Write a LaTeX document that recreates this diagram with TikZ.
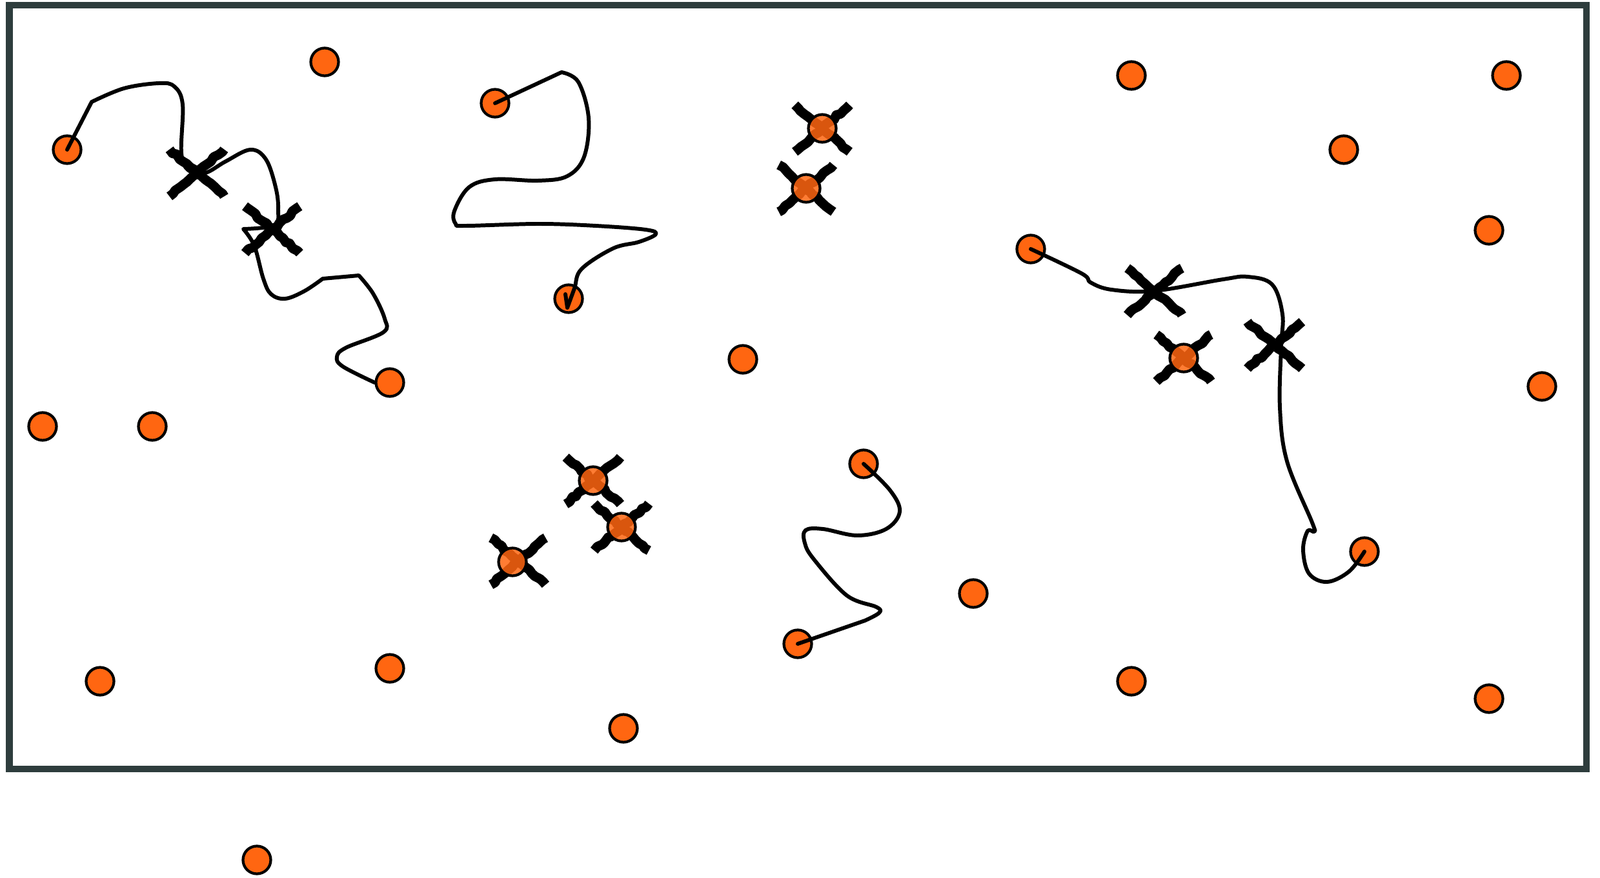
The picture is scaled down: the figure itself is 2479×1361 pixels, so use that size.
\documentclass[tikz,border=0pt]{standalone}
\usepackage{tikz}
\usetikzlibrary{shapes.misc,decorations.pathmorphing}
\definecolor{dotorange}{RGB}{255,102,17}
\definecolor{framegrey}{RGB}{46,61,61}

\begin{document}
\begin{tikzpicture}[x=0.01cm,y=-0.01cm,
  dot/.style={circle,draw=black,fill=dotorange,line width=1.2pt,minimum size=0.43cm,inner sep=0pt},
  crossed/.style={fill opacity=0.85},
  track/.style={line width=1.7pt,line cap=round,line join=round},
  hit/.style={cross out,draw=black,line width=4.2pt,line join=round,minimum width=0.7cm,minimum height=0.58cm,inner sep=0pt,
    decorate,decoration={random steps,segment length=2pt,amplitude=0.5pt}}]
\useasboundingbox (0,0) rectangle (2479,1361);
\draw[framegrey,line width=2.9pt] (14.5,8) rectangle (2458,1192);
% free particles
\node[dot] (c1) at (503,96) {};
\node[dot] (c2) at (104,232) {};
\node[dot] (c3) at (767,160) {};
\node[dot] (c4) at (881,463) {};
\node[dot] (c5) at (604,593) {};
\node[dot] (c6) at (66,661) {};
\node[dot] (c7) at (236,661) {};
\node[dot] (c8) at (1151,557) {};
\node[dot] (c9) at (1338,719) {};
\node[dot] (c10) at (1508,920) {};
\node[dot] (c11) at (1236,998) {};
\node[dot] (c12) at (966,1129) {};
\node[dot] (c13) at (604,1036) {};
\node[dot] (c14) at (155,1056) {};
\node[dot] (c15) at (398,1333) {};
\node[dot] (c16) at (1753,117) {};
\node[dot] (c17) at (2334,117) {};
\node[dot] (c18) at (2082,232) {};
\node[dot] (c19) at (2307,357) {};
\node[dot] (c20) at (1597,386) {};
\node[dot] (c21) at (2389,599) {};
\node[dot] (c22) at (2114,855) {};
\node[dot] (c23) at (1753,1056) {};
\node[dot] (c24) at (2307,1083) {};
% random walks
\draw[track] (c2.center) -- (142,158)
  --plot[smooth,tension=0.6] coordinates {(142,158) (192,137) (246,129) (270,134) (283,162) (281,237) (292,264) (318,268) (350,250) (388,232) (412,247) (427,290) (431,324) (425,349) (377,355)}
  --plot[smooth,tension=0.6] coordinates {(377,355) (394,381) (408,432) (420,456) (442,463) (472,451) (500,432)}
  -- (556,427)
  --plot[smooth,tension=0.6] coordinates {(556,427) (578,455) (596,494) (594,515) (536,539) (522,553) (531,568) (c5.west)};
\draw[track] (c3.center) -- (870,112)
  --plot[smooth,tension=0.6] coordinates {(870,112) (896,127) (912,183) (905,243) (879,273) (834,280) (767,278) (727,290) (704,327) (706,347) (722,350) (834,347) (923,350) (1000,356) (1016,363) (990,375) (950,385) (901,417) (890,447) (879,477)}
  -- (876,456);
\draw[track] plot[smooth,tension=0.6] coordinates {(c9.center) (1379,760) (1394,793) (1373,820) (1328,830) (1275,820) (1248,822) (1247,842) (1261,867) (1312,923) (1358,941) (1362,950) (1340,962)}
  -- (c11.center);
\draw[track] plot[smooth,tension=0.6] coordinates {(c20.center) (1676,424) (1690,438) (1722,449) (1788,451) (1895,433) (1933,429) (1971,441) (1987,487) (1985,537) (1983,632) (1994,715) (2033,810) (2036,824) (2026,823) (2019,852) (2028,889) (2056,902) (2090,886) (c22.center)};
% annihilations
\node[hit] (x1) at (305,268) {};
\node[hit] (x2) at (422,356) {};
\node[hit] (x3) at (1789,452) {};
\node[hit] (x4) at (1975,535) {};
\node[hit] (h25) at (1274,199) {};
\node[dot,crossed] (c25) at (h25) {};
\node[hit] (h26) at (1249,292) {};
\node[dot,crossed] (c26) at (h26) {};
\node[hit] (h27) at (919,745) {};
\node[dot,crossed] (c27) at (h27) {};
\node[hit] (h28) at (963,817) {};
\node[dot,crossed] (c28) at (h28) {};
\node[hit] (h29) at (803,870) {};
\node[dot,crossed] (c29) at (794,871) {};
\node[hit] (h30) at (1834,555) {};
\node[dot,crossed] (c30) at (h30) {};
\end{tikzpicture}
\end{document}
